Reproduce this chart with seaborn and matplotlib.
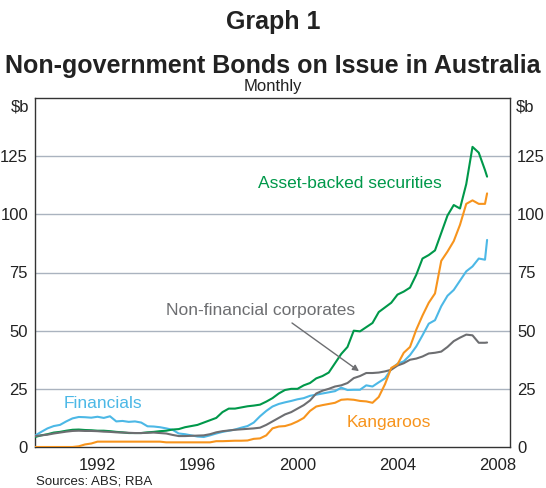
import numpy as np
import pandas as pd
import matplotlib
matplotlib.use("Agg")
import matplotlib.pyplot as plt
import seaborn as sns

# Quarterly readings (decimal years), last point is Feb 2008
years = list(np.arange(1990, 2008.01, 0.25)) + [2008 + 1/12]

financials = [4.9, 6.5, 8.0, 9.0, 9.5, 11.0, 12.3, 12.9,
              12.8, 12.6, 13.0, 12.5, 13.2, 11.0, 11.2, 10.8,
              11.0, 10.5, 8.9, 8.8, 8.5, 8.0, 7.4, 5.8,
              5.5, 5.0, 4.5, 4.3, 5.0, 5.8, 6.5, 7.0,
              7.5, 8.3, 9.0, 10.5, 13.2, 15.5, 17.4, 18.5,
              19.2, 19.8, 20.5, 21.0, 22.0, 22.5, 23.0, 23.5,
              24.0, 25.5, 24.5, 24.6, 24.6, 26.5, 26.0, 27.8,
              29.5, 33.5, 35.8, 36.8, 39.5, 43.2, 48.0, 53.0,
              54.5, 60.5, 65.0, 67.5, 71.5, 75.5, 77.6, 81.0,
              80.5, 89.0]

asset_backed = [4.3, 5.0, 5.5, 6.2, 6.5, 7.0, 7.4, 7.5,
                7.3, 7.2, 7.0, 7.0, 6.8, 6.5, 6.3, 6.0,
                6.0, 6.0, 6.3, 6.5, 6.8, 7.0, 7.5, 7.7,
                8.5, 9.0, 9.5, 10.5, 11.5, 12.5, 15.0, 16.5,
                16.5, 17.0, 17.5, 17.8, 18.2, 19.5, 21.0, 23.0,
                24.5, 25.0, 25.0, 26.5, 27.5, 29.5, 30.5, 32.0,
                36.0, 40.0, 43.0, 50.0, 49.7, 51.5, 53.3, 58.0,
                60.0, 62.0, 65.5, 66.8, 68.5, 74.0, 81.0, 82.5,
                84.5, 92.0, 99.5, 104.0, 102.5, 113.0, 129.0, 126.5,
                119.0, 116.2]

non_financial = [4.7, 5.0, 5.3, 5.8, 6.2, 6.6, 6.9, 7.0,
                 6.9, 6.9, 6.8, 6.6, 6.5, 6.3, 6.2, 6.1,
                 6.0, 6.0, 6.1, 6.2, 6.0, 5.8, 5.2, 4.7,
                 4.7, 4.8, 4.9, 5.0, 5.5, 6.3, 6.8, 7.1,
                 7.4, 7.6, 7.8, 8.0, 8.3, 9.5, 11.0, 12.5,
                 14.0, 15.0, 16.5, 18.0, 20.0, 23.0, 24.2, 25.0,
                 26.0, 26.5, 27.5, 29.6, 30.5, 31.8, 31.8, 32.0,
                 32.5, 33.2, 35.0, 36.0, 37.5, 38.0, 38.9, 40.2,
                 40.5, 41.0, 43.0, 45.5, 47.0, 48.3, 48.0, 44.8,
                 44.8, 44.9]

kangaroos = [0.0, 0.0, 0.0, 0.0, 0.0, 0.0, 0.0, 0.3,
             1.1, 1.5, 2.3, 2.3, 2.3, 2.3, 2.3, 2.3,
             2.3, 2.3, 2.3, 2.3, 2.3, 2.0, 2.0, 2.0,
             2.0, 2.0, 2.0, 2.0, 2.0, 2.5, 2.5, 2.6,
             2.7, 2.7, 2.8, 3.5, 3.7, 5.0, 8.0, 8.8,
             9.0, 9.8, 11.0, 12.5, 15.5, 17.4, 18.0, 18.5,
             19.0, 20.3, 20.5, 20.3, 19.8, 19.6, 19.0, 21.5,
             27.0, 34.0, 35.5, 40.5, 43.0, 50.4, 56.5, 62.0,
             66.0, 80.0, 84.0, 88.5, 95.5, 104.5, 106.0, 104.5,
             104.5, 109.0]

series_names = ["Financials", "Asset-backed securities", "Non-financial corporates", "Kangaroos"]
colors = {"Financials": "#4cb8e6", "Asset-backed securities": "#00984a",
          "Non-financial corporates": "#6d6e71", "Kangaroos": "#f7941d"}

df = pd.DataFrame({"year": years, "Financials": financials,
                   "Asset-backed securities": asset_backed,
                   "Non-financial corporates": non_financial,
                   "Kangaroos": kangaroos})
long_df = df.melt(id_vars="year", var_name="series", value_name="value")

sns.set_theme(style="white")
plt.rcParams["font.family"] = ["Liberation Sans", "DejaVu Sans"]

fig = plt.figure(figsize=(5.46, 4.88), dpi=100)
ax = fig.add_axes([35/546, 41/488, 475/546, 349/488])

# horizontal grid lines
for v in [25, 50, 75, 100, 125]:
    ax.axhline(v, color="#aab3bf", lw=1.0, zorder=0)

sns.lineplot(data=long_df, x="year", y="value", hue="series", hue_order=series_names,
             palette=colors, lw=1.5, legend=False, ax=ax, zorder=3)

ax.set_xlim(1990, 2009)
ax.set_ylim(0, 150)
ax.set_xlabel("")
ax.set_ylabel("")

# year ticks at year boundaries, labels in the middle of the year
ax.set_xticks(np.arange(1991, 2009), minor=True)
ax.set_xticks([1992.5, 1996.5, 2000.5, 2004.5, 2008.5])
ax.set_xticklabels(["1992", "1996", "2000", "2004", "2008"])
ax.tick_params(axis="x", which="major", length=0, pad=8, labelsize=12, labelcolor="#222222")
ax.tick_params(axis="x", which="minor", direction="in", length=4.5, width=1, color="#333333", top=False)

ax.set_yticks([0, 25, 50, 75, 100, 125])
ax.tick_params(axis="y", which="both", length=0, labelsize=12, labelcolor="#222222",
               left=False, right=False, labelleft=True, labelright=True, pad=5)

for sp in ax.spines.values():
    sp.set_color("#333333")
    sp.set_linewidth(1.0)

ax.text(-0.013, 0.975, "$b", transform=ax.transAxes, ha="right", va="center",
        fontsize=12, color="#222222")
ax.text(1.013, 0.975, "$b", transform=ax.transAxes, ha="left", va="center",
        fontsize=12, color="#222222")

# series labels
ax.text(2002.58, 113.4, "Asset-backed securities", color=colors["Asset-backed securities"],
        fontsize=12.5, ha="center", va="center")
ax.text(1999.04, 58.8, "Non-financial corporates", color=colors["Non-financial corporates"],
        fontsize=12.5, ha="center", va="center")
ax.text(1992.72, 18.6, "Financials", color=colors["Financials"],
        fontsize=12.5, ha="center", va="center")
ax.text(2004.16, 10.7, "Kangaroos", color=colors["Kangaroos"],
        fontsize=12.5, ha="center", va="center")
ax.annotate("", xy=(2002.96, 32.6), xytext=(2000.28, 53.3),
            arrowprops=dict(arrowstyle="-|>", color="#6d6e71", lw=1.0,
                            mutation_scale=9, shrinkA=0, shrinkB=0))

fig.text(0.5, 1 - 22/488, "Graph 1", ha="center", va="center",
         fontsize=18, fontweight="bold", color="#222222")
fig.text(0.5, 1 - 66/488, "Non-government Bonds on Issue in Australia", ha="center",
         va="center", fontsize=18, fontweight="bold", color="#222222")
fig.text(0.5, 1 - 86/488, "Monthly", ha="center", va="center", fontsize=12, color="#222222")
fig.text(36/546, 1 - 482/488, "Sources: ABS; RBA", ha="left", va="center",
         fontsize=9.5, color="#222222")

fig.savefig("out.png", dpi=100)
